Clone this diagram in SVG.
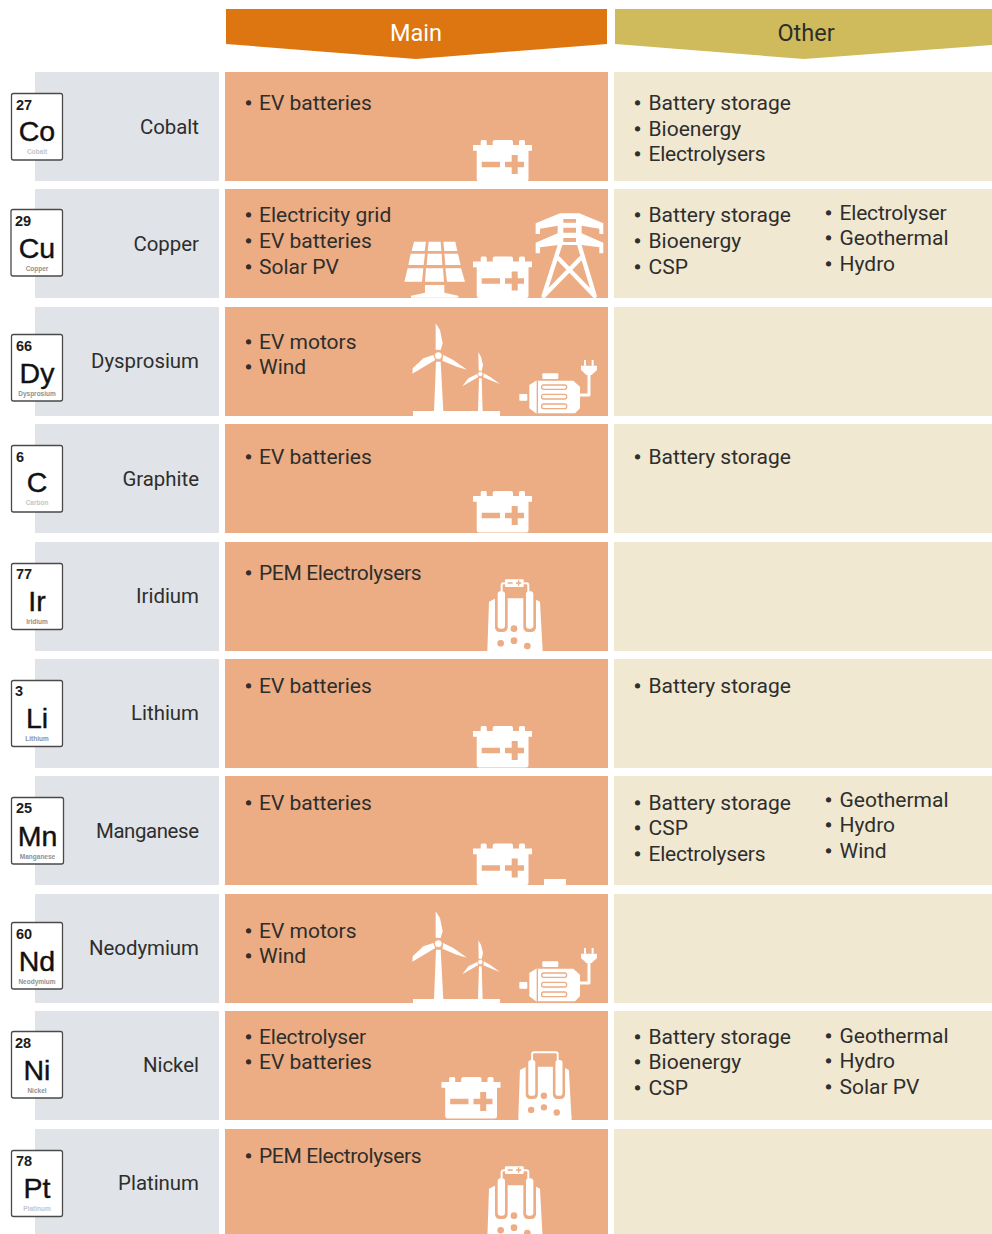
<svg xmlns="http://www.w3.org/2000/svg" width="992" height="1234" viewBox="0 0 992 1234">
<style>
text{font-family:Roboto,"Liberation Sans",sans-serif;font-size:21px;fill:#2e2e2c}
.b{stroke:#2e2e2c;stroke-width:1}
text.lab{text-anchor:end;font-size:20.400px}
.hd{font-size:23.500px;text-anchor:middle}
.el{fill:#e0e3e8}.ma{fill:#ecac84}.ot{fill:#f1e8d2}
.card{fill:#fff;stroke:#4a4a4a;stroke-width:1.3}
text.num{font-family:"Liberation Sans",sans-serif;font-weight:700;font-size:14.5px;fill:#1c1c1c}
text.sym{font-family:"Liberation Sans",sans-serif;font-size:28.5px;text-anchor:middle;fill:#111;stroke:#111;stroke-width:.4}
text.nm{font-family:"Liberation Sans",sans-serif;font-weight:700;font-size:6.5px;text-anchor:middle;fill:#909092}
text.lt{fill:#c4c5c7}
.w{fill:#fff}.o{fill:#ecac84}
.ws{fill:none;stroke:#fff;stroke-linecap:round;stroke-linejoin:round}
</style>
<defs>
<g id="battery">
<path class="w" d="M7.700 5V1.500Q7.700 0 9 0H12.500Q13.700 0 13.700 1.500V5H19.700V2Q19.700 0 22 0H38Q40 0 40 2V5H46V1.500Q46 0 47.500 0H50.500Q52 0 52 1.500V5H59V10.700H55.500V39Q55.500 41.500 53 41.500H6Q3.700 41.500 3.700 39V10.700H0V5Z"/>
<path class="o" d="M8.700 21.700H27V27.300H8.700ZM32 21.700H38.700V15H44.700V21.700H51V27.300H44.700V34H38.700V27.300H32Z"/>
</g>
<g id="wind">
<path class="w" d="M39 288H300V303H39Z"/>
<path class="w" d="M108 140H122L130 290H102Z"/>
<path class="w" d="M107 25L120 45L128 85L122 105L107 104ZM37 176L38 160L70 130L100 120L106 135ZM201 164L170 155L127 137L130 120L160 135Z"/>
<circle cx="115" cy="122" r="12" fill="#fff" stroke="#ecac84" stroke-width="3"/>
<path class="w" d="M237 190H245L248 290H234Z"/>
<path class="w" d="M235 112L243 125L249 150L245 168L236 167ZM187 214L205 190L233 176L235 186ZM300 207L275 197L250 187L251 175L270 185Z"/>
<circle cx="241" cy="177" r="8" fill="#fff" stroke="#ecac84" stroke-width="2.500"/>
</g>
<g id="motor">
<rect class="w" x="358" y="237" width="24" height="20" rx="2"/>
<rect class="w" x="427" y="175" width="48" height="17" rx="3"/>
<path class="w" d="M388 210L408 197H520L540 215V280L525 295H408L388 280Z"/>
<rect class="o" x="410" y="197" width="4" height="98"/>
<rect x="425" y="210" width="75" height="13" rx="6" fill="#fff" stroke="#ecac84" stroke-width="4"/>
<rect x="425" y="238" width="75" height="14" rx="6" fill="#fff" stroke="#ecac84" stroke-width="4"/>
<rect x="425" y="267" width="75" height="14" rx="6" fill="#fff" stroke="#ecac84" stroke-width="4"/>
<path class="ws" stroke-width="9" d="M540 240H567V175"/>
<path class="w" d="M543 152H591V165L575 180H559L543 165Z"/>
<path class="w" d="M552 135H558V152H552ZM575 135H581V152H575Z"/>
</g>
<g id="cell">
<path class="w" d="M57 95L77 85H190L210 95L218 243H52Z"/>
<rect class="o" x="75" y="62" width="38" height="124" rx="14"/>
<rect class="o" x="160" y="62" width="38" height="124" rx="14"/>
<rect class="w" x="83" y="64" width="22" height="112" rx="9"/>
<rect class="w" x="168" y="64" width="22" height="112" rx="9"/>
<circle class="o" cx="132" cy="176" r="10"/>
<circle class="o" cx="92" cy="220" r="10"/>
<circle class="o" cx="132" cy="212" r="10"/>
<circle class="o" cx="172" cy="228" r="10"/>
<path class="ws" stroke-width="6" d="M95 66V46Q95 40 101 40H169Q175 40 175 46V66"/>
</g>
<g id="electrolyser">
<use href="#cell"/>
<rect class="w" x="105" y="28" width="56" height="23" rx="3"/>
<path class="o" d="M113 37H128V41H113ZM138 37H144V31H148V37H154V41H148V47H144V41H138Z"/>
</g>
</defs>

<g id="header-main"><path d="M226 9H607V44L416 59L226 44Z" fill="#dd7510"/><text class="hd" x="416" y="41" style="fill:#fff">Main</text></g>
<g id="header-other"><path d="M615 9H992V45L804 59L615 44Z" fill="#cfbb5b"/><text class="hd" x="806" y="41">Other</text></g>

<g id="cobalt">
<rect class="el" x="35" y="72" width="184" height="109"/><rect class="ma" x="225" y="72" width="383" height="109"/><rect class="ot" x="614" y="72" width="378" height="109"/>
<rect class="card" x="11.500" y="93.500" width="51" height="66.500" rx="2"/>
<text class="num" x="16" y="110">27</text><text class="sym" x="37" y="141">Co</text><text class="nm lt" x="37" y="154">Cobalt</text>
<text class="lab" x="199" y="134">Cobalt</text>
<text x="245" y="110"><tspan class="b">•</tspan><tspan x="259">EV batteries</tspan></text>
<text x="634" y="110"><tspan class="b">•</tspan><tspan x="648.500">Battery storage</tspan></text>
<text x="634" y="135.500"><tspan class="b">•</tspan><tspan x="648.500">Bioenergy</tspan></text>
<text x="634" y="161"><tspan class="b">•</tspan><tspan x="648.500" textLength="117">Electrolysers</tspan></text>
<use href="#battery" x="473" y="140"/>
</g>

<g id="copper">
<rect class="el" x="35" y="189" width="184" height="109"/><rect class="ma" x="225" y="189" width="383" height="109"/><rect class="ot" x="614" y="189" width="378" height="109"/>
<rect class="card" x="11" y="209.500" width="51.500" height="66.500" rx="2"/>
<text class="num" x="15" y="226">29</text><text class="sym" x="37" y="258">Cu</text><text class="nm" x="37" y="271">Copper</text>
<text class="lab" x="199" y="251">Copper</text>
<text x="245" y="222"><tspan class="b">•</tspan><tspan x="259">Electricity grid</tspan></text>
<text x="245" y="248"><tspan class="b">•</tspan><tspan x="259">EV batteries</tspan></text>
<text x="245" y="274"><tspan class="b">•</tspan><tspan x="259">Solar PV</tspan></text>
<text x="634" y="222"><tspan class="b">•</tspan><tspan x="648.500">Battery storage</tspan></text>
<text x="634" y="248"><tspan class="b">•</tspan><tspan x="648.500">Bioenergy</tspan></text>
<text x="634" y="274"><tspan class="b">•</tspan><tspan x="648.500">CSP</tspan></text>
<text x="825" y="220"><tspan class="b">•</tspan><tspan x="839.500" textLength="107">Electrolyser</tspan></text>
<text x="825" y="245"><tspan class="b">•</tspan><tspan x="839.500">Geothermal</tspan></text>
<text x="825" y="271"><tspan class="b">•</tspan><tspan x="839.500">Hydro</tspan></text>
<use href="#battery" x="473" y="256.500"/>
<rect x="470" y="298" width="65" height="3" fill="#fff"/>
<g id="solar" transform="translate(390 130) scale(.3333)">
<path class="w" d="M72 335H108L104 363H65ZM116 335H152L154 363H113ZM160 335H196L202 363H163ZM62 371H105L101 405H55ZM113 371H155L157 405H110ZM163 371H204L212 405H166ZM53 415H100L96 455H43ZM108 415H159L162 455H105ZM166 415H213L225 455H171ZM105 465H163V488L205 497V503H63V497L105 488Z"/>
</g>
<g id="tower" transform="translate(390 130) scale(.3333)">
<path class="w" d="M510 250H568L640 280V312H628V296L575 287V310L640 338V370H628V352L575 345H505L450 352V370H437V338L503 310V287L450 296V312H437V280Z"/>
<path class="o" d="M520 267H558V278H520ZM520 293H558V308H520ZM520 324H558V336H520Z"/>
<path class="ws" stroke-width="13" d="M510 345L461 498M568 345L614 498M505 385L614 498M572 385L461 498"/>
</g>
</g>

<g id="dysprosium">
<rect class="el" x="35" y="307" width="184" height="109"/><rect class="ma" x="225" y="307" width="383" height="109"/><rect class="ot" x="614" y="307" width="378" height="109"/>
<rect class="card" x="11.500" y="334.500" width="51" height="66.500" rx="2"/>
<text class="num" x="16" y="351">66</text><text class="sym" x="37" y="383">Dy</text><text class="nm" x="37" y="396">Dysprosium</text>
<text class="lab" x="199" y="368">Dysprosium</text>
<text x="245" y="349"><tspan class="b">•</tspan><tspan x="259">EV motors</tspan></text>
<text x="245" y="374"><tspan class="b">•</tspan><tspan x="259">Wind</tspan></text>
<g transform="translate(400 315) scale(.3333)"><use href="#wind"/><use href="#motor"/></g>
</g>

<g id="graphite">
<rect class="el" x="35" y="424" width="184" height="109"/><rect class="ma" x="225" y="424" width="383" height="109"/><rect class="ot" x="614" y="424" width="378" height="109"/>
<rect class="card" x="11.500" y="445.500" width="51" height="66.500" rx="2"/>
<text class="num" x="16" y="462">6</text><text class="sym" x="37" y="492">C</text><text class="nm lt" x="37" y="505">Carbon</text>
<text class="lab" x="199" y="486">Graphite</text>
<text x="245" y="464"><tspan class="b">•</tspan><tspan x="259">EV batteries</tspan></text>
<text x="634" y="464"><tspan class="b">•</tspan><tspan x="648.500">Battery storage</tspan></text>
<use href="#battery" x="473" y="491"/>
</g>

<g id="iridium">
<rect class="el" x="35" y="542" width="184" height="109"/><rect class="ma" x="225" y="542" width="383" height="109"/><rect class="ot" x="614" y="542" width="378" height="109"/>
<rect class="card" x="11.500" y="563.500" width="51" height="66" rx="2"/>
<text class="num" x="16" y="579">77</text><text class="sym" x="37" y="611">Ir</text><text class="nm" x="37" y="624">Iridium</text>
<text class="lab" x="199" y="603">Iridium</text>
<text x="245" y="580"><tspan class="b">•</tspan><tspan x="259" textLength="162.500">PEM Electrolysers</tspan></text>
<use href="#electrolyser" transform="translate(470 570) scale(.3333)"/>
</g>

<g id="lithium">
<rect class="el" x="35" y="659" width="184" height="109"/><rect class="ma" x="225" y="659" width="383" height="109"/><rect class="ot" x="614" y="659" width="378" height="109"/>
<rect class="card" x="11.500" y="680.500" width="51" height="66" rx="2"/>
<text class="num" x="15" y="696">3</text><text class="sym" x="37" y="728">Li</text><text class="nm" x="37" y="741">Lithium</text>
<text class="lab" x="199" y="720">Lithium</text>
<text x="245" y="693"><tspan class="b">•</tspan><tspan x="259">EV batteries</tspan></text>
<text x="634" y="693"><tspan class="b">•</tspan><tspan x="648.500">Battery storage</tspan></text>
<use href="#battery" x="473" y="726"/>
</g>

<g id="manganese">
<rect class="el" x="35" y="776" width="184" height="109"/><rect class="ma" x="225" y="776" width="383" height="109"/><rect class="ot" x="614" y="776" width="378" height="109"/>
<rect class="card" x="11.500" y="797.500" width="52" height="66.500" rx="2"/>
<text class="num" x="16" y="813">25</text><text class="sym" x="37.500" y="846">Mn</text><text class="nm" x="37.500" y="859">Manganese</text>
<text class="lab" x="199" y="838" textLength="103">Manganese</text>
<text x="245" y="810"><tspan class="b">•</tspan><tspan x="259">EV batteries</tspan></text>
<text x="634" y="810"><tspan class="b">•</tspan><tspan x="648.500">Battery storage</tspan></text>
<text x="634" y="835"><tspan class="b">•</tspan><tspan x="648.500">CSP</tspan></text>
<text x="634" y="861"><tspan class="b">•</tspan><tspan x="648.500" textLength="117">Electrolysers</tspan></text>
<text x="825" y="807"><tspan class="b">•</tspan><tspan x="839.500">Geothermal</tspan></text>
<text x="825" y="832"><tspan class="b">•</tspan><tspan x="839.500">Hydro</tspan></text>
<text x="825" y="858"><tspan class="b">•</tspan><tspan x="839.500">Wind</tspan></text>
<use href="#battery" x="473" y="843.500"/>
<rect x="470" y="885" width="65" height="3" fill="#fff"/>
<rect class="w" x="544" y="879" width="22" height="6"/>
</g>

<g id="neodymium">
<rect class="el" x="35" y="894" width="184" height="109"/><rect class="ma" x="225" y="894" width="383" height="109"/><rect class="ot" x="614" y="894" width="378" height="109"/>
<rect class="card" x="11.500" y="922.500" width="51" height="66.500" rx="2"/>
<text class="num" x="16" y="939">60</text><text class="sym" x="37" y="971">Nd</text><text class="nm" x="37" y="984">Neodymium</text>
<text class="lab" x="199" y="955">Neodymium</text>
<text x="245" y="938"><tspan class="b">•</tspan><tspan x="259">EV motors</tspan></text>
<text x="245" y="963"><tspan class="b">•</tspan><tspan x="259">Wind</tspan></text>
<g transform="translate(400 903) scale(.3333)"><use href="#wind"/><use href="#motor"/></g>
</g>

<g id="nickel">
<rect class="el" x="35" y="1011" width="184" height="109"/><rect class="ma" x="225" y="1011" width="383" height="109"/><rect class="ot" x="614" y="1011" width="378" height="109"/>
<rect class="card" x="11.500" y="1031.500" width="51" height="66.500" rx="2"/>
<text class="num" x="15" y="1048">28</text><text class="sym" x="37" y="1080">Ni</text><text class="nm" x="37" y="1093">Nickel</text>
<text class="lab" x="199" y="1072">Nickel</text>
<text x="245" y="1044"><tspan class="b">•</tspan><tspan x="259" textLength="107">Electrolyser</tspan></text>
<text x="245" y="1069"><tspan class="b">•</tspan><tspan x="259">EV batteries</tspan></text>
<text x="634" y="1044"><tspan class="b">•</tspan><tspan x="648.500">Battery storage</tspan></text>
<text x="634" y="1069"><tspan class="b">•</tspan><tspan x="648.500">Bioenergy</tspan></text>
<text x="634" y="1095"><tspan class="b">•</tspan><tspan x="648.500">CSP</tspan></text>
<text x="825" y="1043"><tspan class="b">•</tspan><tspan x="839.500">Geothermal</tspan></text>
<text x="825" y="1068"><tspan class="b">•</tspan><tspan x="839.500">Hydro</tspan></text>
<text x="825" y="1094"><tspan class="b">•</tspan><tspan x="839.500">Solar PV</tspan></text>
<use href="#battery" x="441.500" y="1077"/>
<rect x="438" y="1120" width="65" height="3" fill="#fff"/>
<use href="#cell" transform="translate(501.700 1039.500) scale(.32)"/>
<rect class="w" x="518.500" y="1116" width="53" height="4"/>
</g>

<g id="platinum">
<rect class="el" x="35" y="1129" width="184" height="105"/><rect class="ma" x="225" y="1129" width="383" height="105"/><rect class="ot" x="614" y="1129" width="378" height="105"/>
<rect class="card" x="11.500" y="1150.500" width="51" height="66" rx="2"/>
<text class="num" x="16" y="1166">78</text><text class="sym" x="37" y="1198">Pt</text><text class="nm lt" x="37" y="1211">Platinum</text>
<text class="lab" x="199" y="1190">Platinum</text>
<text x="245" y="1163"><tspan class="b">•</tspan><tspan x="259" textLength="162.500">PEM Electrolysers</tspan></text>
<use href="#electrolyser" transform="translate(470 1157) scale(.3333)"/>
</g>
</svg>
